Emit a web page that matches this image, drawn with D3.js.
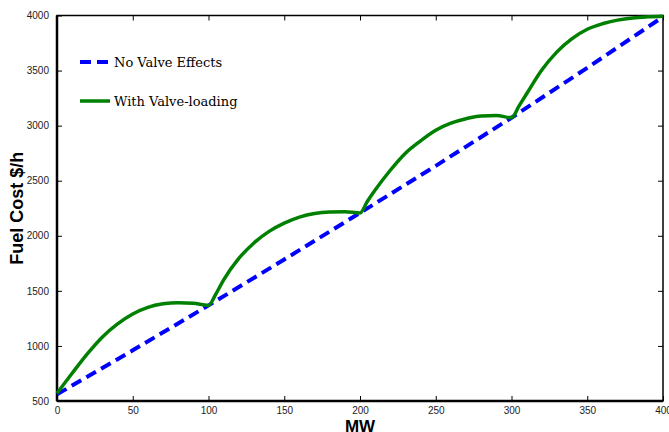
<!DOCTYPE html>
<html>
<head>
<meta charset="utf-8">
<script src="https://cdn.jsdelivr.net/npm/d3@7"></script>
<style>
  body { margin: 0; background: #fff; }
  .tick text { font-family: "Liberation Sans", Arial, sans-serif; font-size: 10px; fill: #222; }
  .axis-title { font-family: "Liberation Sans", Arial, sans-serif; font-weight: bold; font-size: 18px; fill: #000; }
  .legend-text { font-family: "DejaVu Serif", serif; font-size: 13px; fill: #000; }
</style>
</head>
<body>
<div id="chart"></div>
<script>
// fuel cost curves (MW -> $/h)
var noValveMW = [0, 50, 100, 150, 200, 250, 300, 350, 400];
var noValveCost = [560, 960, 1368, 1785, 2208, 2635, 3072, 3525, 3988];

var valveMW = [0, 10, 20, 30, 40, 50, 60, 70, 80, 90, 100,
  105, 110, 120, 130, 140, 150, 160, 170, 180, 190, 200,
  205, 210, 220, 230, 240, 250, 260, 270, 280, 290, 300,
  305, 310, 320, 330, 340, 350, 360, 370, 380, 390, 400];
var valveCost = [570, 752, 928, 1082, 1200, 1290, 1350, 1382, 1393, 1387, 1368,
  1475, 1600, 1795, 1935, 2040, 2115, 2170, 2203, 2216, 2218, 2208,
  2315, 2415, 2595, 2750, 2862, 2958, 3022, 3063, 3088, 3092, 3072,
  3180, 3290, 3505, 3670, 3790, 3875, 3925, 3958, 3978, 3988, 3994];

var xTicks = [0, 50, 100, 150, 200, 250, 300, 350, 400];
var yTicks = [500, 1000, 1500, 2000, 2500, 3000, 3500, 4000];

var legendLabels = ["No Valve Effects", "With Valve-loading"];

drawChart("#chart");

function drawChart(elm) {
  var W = 669, H = 432;
  var margin = { top: 15.5, right: 6, bottom: 31, left: 57 },
    width = W - margin.left - margin.right,
    height = H - margin.top - margin.bottom;

  var svg = d3.select(elm)
    .append("svg")
    .attr("width", W)
    .attr("height", H);

  var g = svg.append("g")
    .attr("transform", `translate(${margin.left},${margin.top})`);

  var x = d3.scaleLinear().domain([0, 400]).range([0, width]);
  var y = d3.scaleLinear().domain([500, 4000]).range([height, 0]);
  var fmt = d3.format("d");

  // axes, ticks pointing inward like matlab
  var bottom = g.append("g")
    .attr("transform", `translate(0,${height})`)
    .call(d3.axisBottom(x).tickValues(xTicks).tickFormat(fmt).tickSizeInner(-5).tickSizeOuter(0).tickPadding(6));
  var left = g.append("g")
    .call(d3.axisLeft(y).tickValues(yTicks).tickFormat(fmt).tickSizeInner(-5).tickSizeOuter(0).tickPadding(8));
  var top = g.append("g")
    .call(d3.axisTop(x).tickValues(xTicks).tickSizeInner(-5).tickSizeOuter(0).tickFormat(""));
  var right = g.append("g")
    .attr("transform", `translate(${width},0)`)
    .call(d3.axisRight(y).tickValues(yTicks).tickSizeInner(-5).tickSizeOuter(0).tickFormat(""));

  [bottom, left, top, right].forEach(function (a) {
    a.select(".domain").remove();
    a.selectAll(".tick line").attr("stroke", "#000").attr("stroke-width", 1);
  });

  // box
  g.append("rect")
    .attr("width", width)
    .attr("height", height)
    .attr("fill", "none")
    .attr("stroke", "#000")
    .attr("stroke-width", 1.5);
  g.append("line")
    .attr("x1", 0).attr("x2", 0).attr("y1", 0).attr("y2", height)
    .attr("stroke", "#000").attr("stroke-width", 2.5);
  g.append("line")
    .attr("x1", 0).attr("x2", width).attr("y1", height).attr("y2", height)
    .attr("stroke", "#000").attr("stroke-width", 2.5);

  var line = d3.line()
    .x(function (d) { return x(d[0]); })
    .y(function (d) { return y(d[1]); });

  var noValve = d3.zip(noValveMW, noValveCost);
  var valve = d3.zip(valveMW, valveCost);

  g.append("path")
    .datum(noValve)
    .attr("fill", "none")
    .attr("stroke", "#0000ff")
    .attr("stroke-width", 4)
    .attr("stroke-dasharray", "11,6")
    .attr("d", line);

  g.append("path")
    .datum(valve)
    .attr("fill", "none")
    .attr("stroke", "#008000")
    .attr("stroke-width", 3.5)
    .attr("stroke-linejoin", "round")
    .attr("d", line.curve(d3.curveMonotoneX));

  // legend (no box)
  var legend = svg.append("g");
  legend.append("line")
    .attr("x1", 80).attr("x2", 108).attr("y1", 62).attr("y2", 62)
    .attr("stroke", "#0000ff").attr("stroke-width", 4).attr("stroke-dasharray", "11,6");
  legend.append("line")
    .attr("x1", 80).attr("x2", 110).attr("y1", 101).attr("y2", 101)
    .attr("stroke", "#008000").attr("stroke-width", 3.5);
  legend.selectAll(".legend-text")
    .data(legendLabels)
    .join("text")
    .attr("class", "legend-text")
    .attr("x", 114)
    .attr("y", function (d, i) { return 62 + i * 39; })
    .attr("dy", "0.35em")
    .text(function (d) { return d; });

  // axis titles
  svg.append("text")
    .attr("class", "axis-title")
    .attr("text-anchor", "middle")
    .attr("x", margin.left + width / 2)
    .attr("y", 432)
    .style("font-size", "17px")
    .text("MW");
  svg.append("text")
    .attr("class", "axis-title")
    .attr("text-anchor", "middle")
    .attr("transform", `translate(23,${margin.top + height / 2}) rotate(-90)`)
    .text("Fuel Cost $/h");
}
</script>
</body>
</html>
